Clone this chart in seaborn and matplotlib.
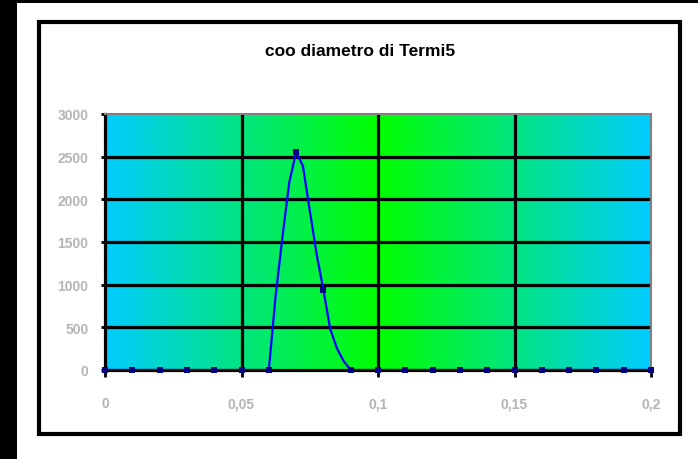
import numpy as np
import pandas as pd
import matplotlib
matplotlib.use("Agg")
import matplotlib.pyplot as plt
import seaborn as sns
from matplotlib.colors import LinearSegmentedColormap
from matplotlib.patches import Rectangle

sns.set_theme(style="white")
plt.rcParams['font.family'] = ['Liberation Sans', 'DejaVu Sans']

title = "coo diametro di Termi5"
x_vals = [0.00, 0.01, 0.02, 0.03, 0.04, 0.05, 0.06,
          0.0625, 0.065, 0.0675, 0.07, 0.0725, 0.075, 0.0775,
          0.08, 0.0825, 0.085, 0.0875, 0.09,
          0.10, 0.11, 0.12, 0.13, 0.14, 0.15, 0.16, 0.17, 0.18, 0.19, 0.20]
y_vals = [0, 0, 0, 0, 0, 0, 0,
          870, 1560, 2200, 2555, 2390, 1870, 1360,
          938, 480, 250, 100, 0,
          0, 0, 0, 0, 0, 0, 0, 0, 0, 0, 0]
x_ticks = [0, 0.05, 0.1, 0.15, 0.2]
x_tick_labels = ["0", "0,05", "0,1", "0,15", "0,2"]
y_ticks = [0, 500, 1000, 1500, 2000, 2500, 3000]
y_tick_labels = ["0", "500", "1000", "1500", "2000", "2500", "3000"]

df = pd.DataFrame({"x": x_vals, "y": y_vals})
marks = df[np.isclose((df["x"] * 100) % 1, 0) | np.isclose((df["x"] * 100) % 1, 1)]

W, H = 698, 460
fig = plt.figure(figsize=(W / 100, H / 100), dpi=100)
fig.patch.set_facecolor("white")

# outer decorations
fig.add_artist(Rectangle((0, 0), 17 / W, 1, transform=fig.transFigure,
                         facecolor="black", edgecolor="none"))
fig.add_artist(Rectangle((17 / W, 1 - 4 / H), 1, 4 / H, transform=fig.transFigure,
                         facecolor="black", edgecolor="none"))
fig.add_artist(Rectangle((39 / W, 1 - 435 / H), (680 - 39) / W, (435 - 23) / H,
                         transform=fig.transFigure, facecolor="none",
                         edgecolor="black", linewidth=3))

ax = fig.add_axes([105 / W, 1 - 371 / H, (651 - 105) / W, (371 - 115) / H])

cmap = LinearSegmentedColormap.from_list("g", ["#00CCFF", "#00FF00", "#00CCFF"])
grad = np.linspace(0, 1, 512)[None, :]
ax.imshow(grad, aspect="auto", cmap=cmap, extent=[0, 0.2, 0, 3000],
          interpolation="bilinear", zorder=0)

for yt in y_ticks[1:-1]:
    ax.axhline(yt, color="black", lw=2.3, zorder=1)
for xt in x_ticks[1:-1]:
    ax.axvline(xt, color="black", lw=2.3, zorder=1)

sns.lineplot(data=df, x="x", y="y", ax=ax, color="#0000FF", lw=1.6,
             zorder=3, estimator=None, sort=False)
ax.scatter(marks["x"], marks["y"], marker="s", s=22, color="#000080",
           zorder=4, clip_on=False, linewidths=0)

ax.set_xlim(0, 0.2)
ax.set_ylim(0, 3000)
ax.set_xticks(x_ticks)
ax.set_xticklabels(x_tick_labels)
ax.set_yticks(y_ticks)
ax.set_yticklabels(y_tick_labels)
ax.set_xlabel("")
ax.set_ylabel("")

for s in ["top", "right"]:
    ax.spines[s].set_visible(True)
    ax.spines[s].set_color("#808080")
    ax.spines[s].set_linewidth(1.5)
for s in ["left", "bottom"]:
    ax.spines[s].set_visible(True)
    ax.spines[s].set_color("black")
    ax.spines[s].set_linewidth(2.3)

ax.tick_params(axis="x", direction="out", length=5, width=2, color="black",
               pad=14, labelsize=10, labelcolor="#B4B4B4", bottom=True)
ax.tick_params(axis="y", direction="out", length=3, width=2, color="black",
               pad=9, labelsize=10, labelcolor="#B4B4B4", left=True)
for lab in ax.get_xticklabels() + ax.get_yticklabels():
    lab.set_fontweight("bold")

fig.text(360 / W, 1 - 52 / H, title, ha="center", va="center",
         fontsize=12.5, fontweight="bold", color="black")

fig.savefig("out.png", dpi=100)
